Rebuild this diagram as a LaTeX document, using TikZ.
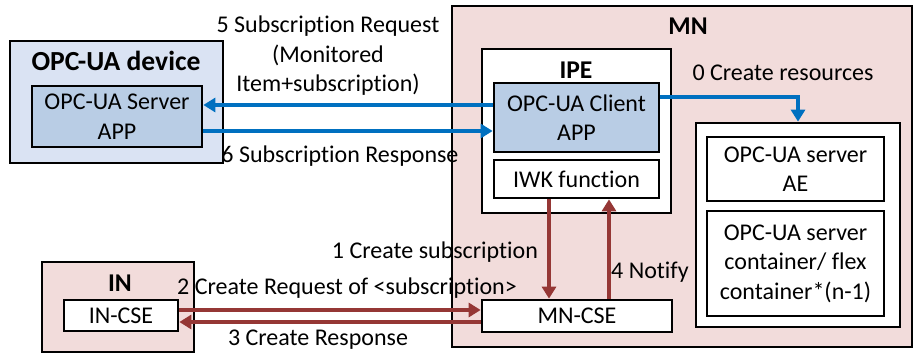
\documentclass[tikz,border=0pt]{standalone}
\usepackage{fontspec}
\setmainfont{Carlito}[Ligatures=NoCommon]
\usetikzlibrary{arrows.meta,calc}
\definecolor{devfill}{HTML}{DAE3F3}
\definecolor{appfill}{HTML}{B9CDE5}
\definecolor{pinkfill}{HTML}{F2DCDB}
\definecolor{bluearr}{HTML}{0070C0}
\definecolor{redarr}{HTML}{953735}
\tikzset{
  box/.style={draw=black, line width=1.35pt, inner sep=0pt, align=center},
  lbl/.style={inner sep=0pt, align=center},
  ttl/.style={inner sep=0pt, font=\fontsize{12.8}{15}\selectfont\bfseries},
  bigttl/.style={inner sep=0pt, font=\fontsize{13.8}{16}\selectfont\bfseries},
  barrow/.style={draw=bluearr, line width=1.6pt, -{Triangle[length=6pt,width=7pt]}},
  rarrow/.style={draw=redarr, line width=1.6pt, -{Triangle[length=6pt,width=7pt]}},
}
\begin{document}
\begin{tikzpicture}[x=0.5pt,y=-0.5pt, font=\fontsize{12}{14.75}\selectfont]
\useasboundingbox (0,0) rectangle (915,353);
% OPC-UA device
\node[box, fill=devfill, minimum width=106.5pt, minimum height=61pt] (dev) at (116.5,102) {};
\node[bigttl] (devt) at (116,61) {OPC-UA device};
\node[box, fill=appfill, minimum width=85pt, minimum height=30.5pt] (srv) at (117,116.5) {OPC-UA Server\\APP};
% MN
\node[box, fill=pinkfill, minimum width=230pt, minimum height=170.5pt] (mn) at (682,176.5) {};
\node[ttl] (mnt) at (688,26) {MN};
\node[box, fill=white, minimum width=94.5pt, minimum height=82pt] (ipe) at (576.5,131) {};
\node[ttl] (ipet) at (576,70) {IPE};
\node[box, fill=appfill, minimum width=82.5pt, minimum height=34.5pt] (cli) at (576.5,117.5) {OPC-UA Client\\APP};
\node[box, fill=white, minimum width=82.5pt, minimum height=19pt] (iwk) at (576.5,179) {IWK function};
\node[box, fill=white, minimum width=102pt, minimum height=102pt] (res) at (798,225) {};
\node[box, fill=white, minimum width=88.5pt, minimum height=32pt] (ae) at (795.5,169) {OPC-UA server\\AE};
\node[box, fill=white, minimum width=88.5pt, minimum height=52.5pt] (cont) at (795.5,263.5) {OPC-UA server\\container/ flex\\container*(n-1)};
\node[box, fill=white, minimum width=95pt, minimum height=16pt] (mncse) at (577,316) {MN-CSE};
% IN
\node[box, fill=pinkfill, minimum width=76pt, minimum height=45pt] (in) at (118,307) {};
\node[ttl] (int) at (120,283) {IN};
\node[box, fill=white, minimum width=57pt, minimum height=15.5pt] (incse) at (121,315.5) {IN-CSE};
% blue arrows
\draw[barrow] (cli.west |- 0,105) -- (srv.east |- 0,105);
\draw[barrow] (srv.east |- 0,131) -- (cli.west |- 0,131);
\draw[barrow] (cli.east |- 0,97) -| (res.north);
% red arrows
\draw[rarrow] (iwk.south -| 549,0) -- (mncse.north -| 549,0);
\draw[rarrow] (mncse.north -| 609,0) -- (iwk.south -| 609,0);
\draw[rarrow] (incse.east |- 0,310) -- (mncse.west |- 0,310);
\draw[rarrow] (mncse.west |- 0,322) -- (incse.east |- 0,322);
% labels
\node[lbl] (l5) at (328,56) {5 Subscription Request\\(Monitored\\Item+subscription)};
\node[lbl] (l6) at (340,156) {6 Subscription Response};
\node[lbl] (l0) at (783,73) {0 Create resources};
\node[lbl] (l1) at (435,252) {1 Create subscription};
\node[lbl] (l2) at (347,288) {2 Create Request of <subscription>};
\node[lbl] (l3) at (318,340) {3 Create Response};
\node[lbl] (l4) at (650,272) {4 Notify};
\end{tikzpicture}
\end{document}
